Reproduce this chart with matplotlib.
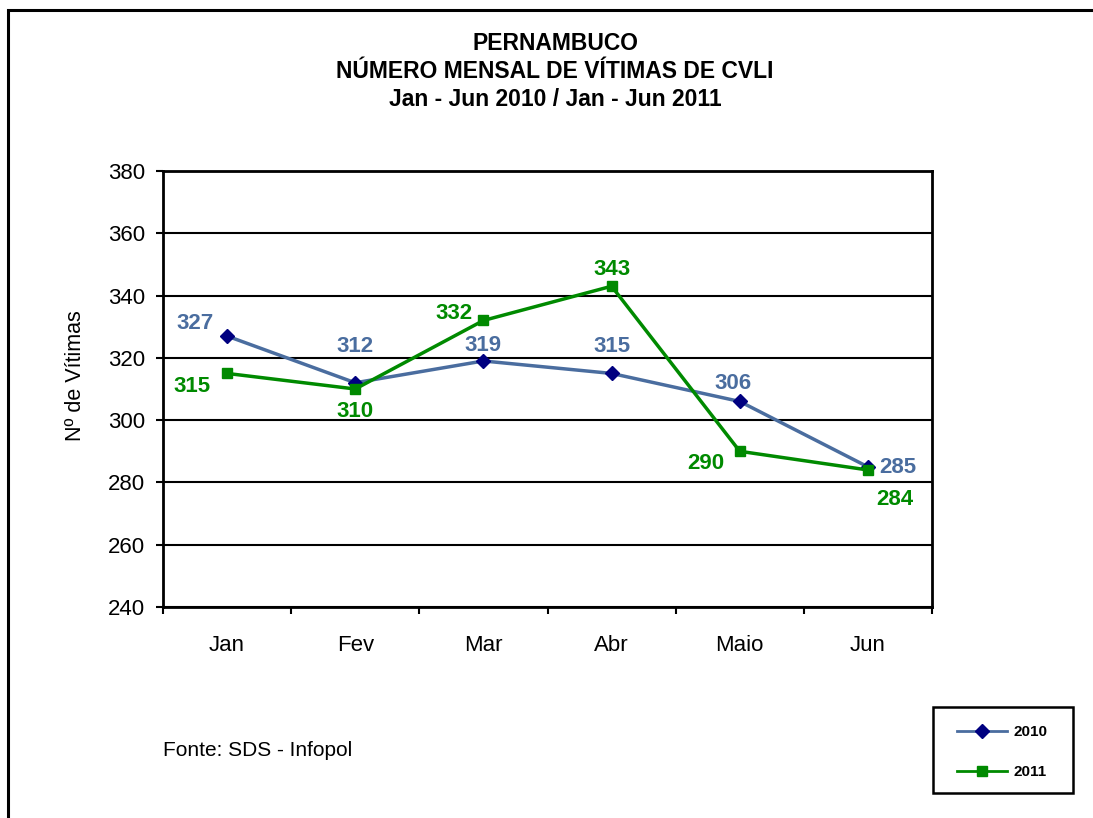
import matplotlib.pyplot as plt
from matplotlib.lines import Line2D
from matplotlib.patches import Rectangle

plt.rcParams['font.family'] = ['Liberation Sans', 'DejaVu Sans']

meses = ['Jan', 'Fev', 'Mar', 'Abr', 'Maio', 'Jun']
vitimas_2010 = [327, 312, 319, 315, 306, 285]
vitimas_2011 = [315, 310, 332, 343, 290, 284]

cor_2010 = '#4A6D9F'
cor_2011 = '#008A00'

# label offsets in pixels (dx, dy)
off_2010 = [(-32, 13), (0, 36), (0, 15), (0, 27), (-7, 18), (30, -1)]
off_2011 = [(-35, -13), (0, -23), (-29, 7), (0, 17), (-34, -12), (27, -30)]

fig = plt.figure(figsize=(10.93, 8.18), dpi=100)
fig.patches.append(Rectangle((8 / 1093, -0.05), 1.2, 1 - 10 / 818 + 0.05,
                             transform=fig.transFigure, fill=False,
                             edgecolor='black', linewidth=2.2))

ax = fig.add_axes([163 / 1093, 1 - 607 / 818, 769 / 1093, 436 / 818])
x = range(len(meses))

ax.plot(x, vitimas_2010, color=cor_2010, lw=2.5, marker='D', ms=7,
        mfc='#000080', mec='#000080', zorder=3)
ax.plot(x, vitimas_2011, color=cor_2011, lw=2.5, marker='s', ms=7,
        mfc=cor_2011, mec=cor_2011, zorder=4)

for i, v in enumerate(vitimas_2010):
    ax.annotate(str(v), (i, v), xytext=off_2010[i], textcoords='offset pixels',
                ha='center', va='center', color=cor_2010, fontsize=16,
                fontweight='bold')
for i, v in enumerate(vitimas_2011):
    ax.annotate(str(v), (i, v), xytext=off_2011[i], textcoords='offset pixels',
                ha='center', va='center', color=cor_2011, fontsize=16,
                fontweight='bold')

ax.set_xlim(-0.5, len(meses) - 0.5)
ax.set_ylim(240, 380)
ax.set_yticks(range(240, 381, 20))
ax.set_xticks(x)
ax.set_xticklabels(meses, fontsize=16)
ax.set_xticks([i - 0.5 for i in range(len(meses) + 1)], minor=True)
ax.tick_params(axis='x', which='major', length=0, pad=20)
ax.tick_params(axis='x', which='minor', length=5, width=1.5, direction='out')
ax.tick_params(axis='y', length=5, width=1.5, direction='out', labelsize=16, pad=8)
ax.grid(axis='y', color='black', lw=1.5)
ax.set_axisbelow(True)
for s in ax.spines.values():
    s.set_linewidth(2)
ax.set_ylabel('Nº de Vítimas', fontsize=15.5)
ax.yaxis.set_label_coords(-0.100, 0.53)

cx = 555 / 1093
fig.text(cx, 1 - 44 / 818, 'PERNAMBUCO', ha='center', va='center',
         fontsize=16.5, fontweight='bold')
fig.text(cx, 1 - 72 / 818, 'NÚMERO MENSAL DE VÍTIMAS DE CVLI', ha='center',
         va='center', fontsize=16.5, fontweight='bold')
fig.text(cx, 1 - 100 / 818, 'Jan - Jun 2010 / Jan - Jun 2011', ha='center',
         va='center', fontsize=16.5, fontweight='bold')

fig.text(163 / 1093, 1 - 750 / 818, 'Fonte: SDS - Infopol', ha='left',
         va='center', fontsize=15)

# legend box
fig.patches.append(Rectangle((933 / 1093, 1 - 793 / 818), 140 / 1093, 86 / 818,
                             transform=fig.transFigure, fill=False,
                             edgecolor='black', linewidth=1.8))
handles = [
    Line2D([], [], color=cor_2010, lw=2, marker='D', ms=7, mfc='#000080', mec='#000080'),
    Line2D([], [], color=cor_2011, lw=2, marker='s', ms=7, mfc=cor_2011, mec=cor_2011),
]
fig.legend(handles, ['2010', '2011'], loc='center left',
           bbox_to_anchor=(957 / 1093, 1 - 752 / 818),
           prop={'size': 11, 'weight': 'bold'}, frameon=False,
           handlelength=3.3, handletextpad=0.4, labelspacing=1.7,
           borderpad=0, borderaxespad=0)

fig.savefig('out.png', dpi=100)
